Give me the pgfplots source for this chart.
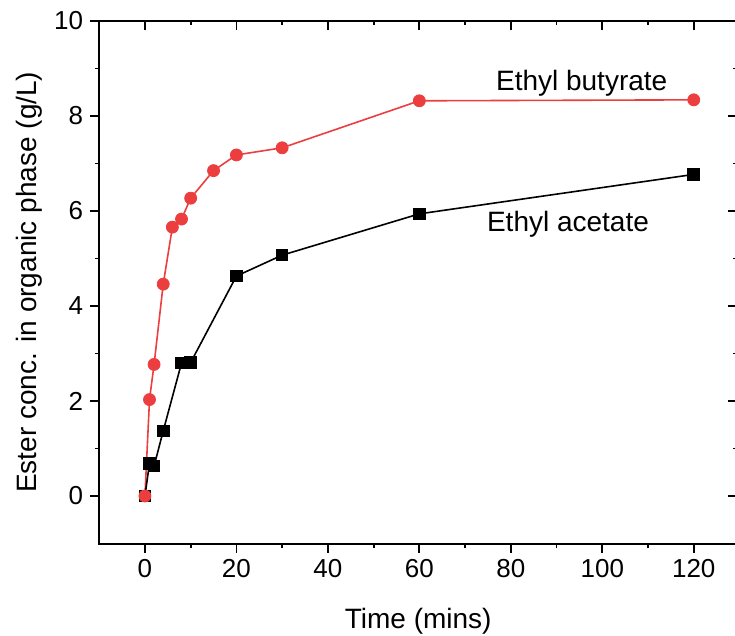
\documentclass[border=0pt]{standalone}
\usepackage{fontspec}
\setmainfont{Liberation Sans}
\usepackage{pgfplots}
\usepackage{pgfplotstable}
\pgfplotsset{compat=1.18}
\definecolor{butyr}{RGB}{236,62,62}

% time (mins) vs ester concentration in the organic phase (g/L)
\pgfplotstableread{
t    c
0    0
1    2.03
2    2.77
4    4.46
6    5.66
8    5.83
10   6.27
15   6.85
20   7.18
30   7.33
60   8.32
120  8.34
}\butyrate
\pgfplotstableread{
t    c
0    0
1    0.69
2    0.63
4    1.37
8    2.80
10   2.81
20   4.63
30   5.07
60   5.94
120  6.77
}\acetate

\pgfplotsset{
  frame/.style={
    scale only axis,
    width=319bp, height=261.25bp,
    xmin=-10, xmax=129.5, ymin=-1, ymax=10,
    xtick={0,20,...,120}, ytick={0,2,...,10},
    minor x tick num=1, minor y tick num=1,
    major tick length=4.5bp, minor tick length=2.25bp,
    axis line style={line width=1bp},
    every tick/.style={black, line width=0.9bp},
    every minor tick/.style={black, line width=0.9bp},
    /pgf/number format/assume math mode=true,
    tick label style={font=\fontsize{13bp}{15bp}\selectfont},
    label style={font=\fontsize{14bp}{17bp}\selectfont},
  }
}

\begin{document}
\begin{tikzpicture}
\path[use as bounding box] (-49.6bp,-46.25bp) rectangle (317.9bp,271.75bp);

% plain ticks on the top and right edges, pointing inwards
\begin{axis}[frame,
  xtick pos=right, ytick pos=right, tick align=inside,
  xticklabels={}, yticklabels={}]
\end{axis}

\begin{axis}[frame,
  xtick pos=left, ytick pos=left, tick align=outside,
  xlabel={Time (mins)},
  ylabel={Ester conc. in organic phase (g/L)},
  xlabel style={yshift=-8.5bp},
  ylabel style={yshift=-1bp},
  clip=false]

\addplot[butyr, line width=0.8bp, no marks] table[x=t, y=c] {\butyrate};
\addplot[black, line width=0.8bp, mark=square*, mark size=2.75bp,
  mark options={solid}] table[x=t, y=c] {\acetate};
\addplot[only marks, butyr, mark=*, mark size=3bp] table[x=t, y=c] {\butyrate};

\node[font=\fontsize{14bp}{17bp}\selectfont] at (axis cs:95.5,8.69) {Ethyl butyrate};
\node[font=\fontsize{14bp}{17bp}\selectfont] at (axis cs:92.5,5.73) {Ethyl acetate};
\end{axis}
\end{tikzpicture}
\end{document}
